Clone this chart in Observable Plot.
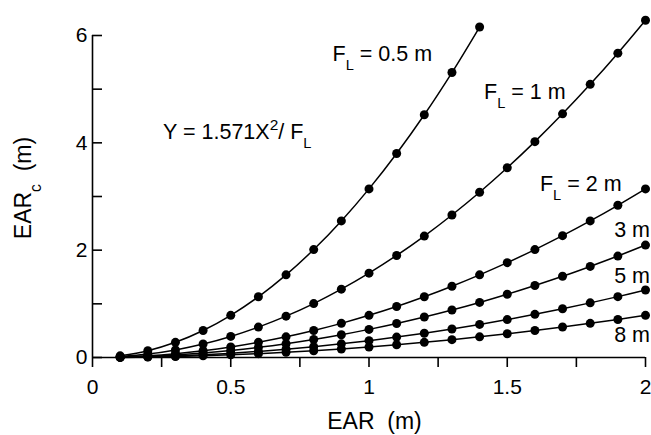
<!DOCTYPE html>
<html>
<head>
<meta charset="utf-8">
<script src="https://cdn.jsdelivr.net/npm/d3@7"></script>
<script src="https://cdn.jsdelivr.net/npm/@observablehq/plot@0.6"></script>
<style>
  html, body { margin: 0; padding: 0; background: #fff; }
  #chart svg { display: block; }
</style>
</head>
<body>
<div id="chart"></div>
<script>
// EAR values (m), x axis
const earX = [0.1, 0.2, 0.3, 0.4, 0.5, 0.6, 0.7, 0.8, 0.9, 1.0,
              1.1, 1.2, 1.3, 1.4, 1.5, 1.6, 1.7, 1.8, 1.9, 2.0];
// Focal lengths F_L (m)
const focalLengths = [0.5, 1, 2, 3, 5, 8];
// EAR_c values (m) for each focal length
const earcF05 = [0.031, 0.126, 0.283, 0.503, 0.786, 1.131, 1.540, 2.011, 2.545, 3.142,
                 3.802, 4.524, 5.310, 6.158];
const earcF1  = [0.016, 0.063, 0.141, 0.251, 0.393, 0.566, 0.770, 1.005, 1.273, 1.571,
                 1.901, 2.262, 2.655, 3.079, 3.535, 4.022, 4.540, 5.090, 5.671, 6.284];
const earcF2  = [0.008, 0.031, 0.071, 0.126, 0.196, 0.283, 0.385, 0.503, 0.636, 0.786,
                 0.950, 1.131, 1.328, 1.540, 1.767, 2.011, 2.270, 2.545, 2.836, 3.142];
const earcF3  = [0.005, 0.021, 0.047, 0.084, 0.131, 0.189, 0.257, 0.335, 0.424, 0.524,
                 0.634, 0.754, 0.885, 1.026, 1.178, 1.341, 1.513, 1.697, 1.890, 2.095];
const earcF5  = [0.003, 0.013, 0.028, 0.050, 0.079, 0.113, 0.154, 0.201, 0.254, 0.314,
                 0.380, 0.452, 0.531, 0.616, 0.707, 0.804, 0.908, 1.018, 1.134, 1.257];
const earcF8  = [0.002, 0.008, 0.018, 0.031, 0.049, 0.071, 0.096, 0.126, 0.159, 0.196,
                 0.238, 0.283, 0.332, 0.385, 0.442, 0.503, 0.568, 0.636, 0.709, 0.786];
const seriesValues = [earcF05, earcF1, earcF2, earcF3, earcF5, earcF8];

// Axis ticks
const xTicks = [0, 0.25, 0.5, 0.75, 1, 1.25, 1.5, 1.75, 2];
const xTickLabels = [0, 0.5, 1, 1.5, 2];
const yTicks = [0, 1, 2, 3, 4, 5, 6];
const yTickLabels = [0, 2, 4, 6];

// Texts
const xTitle = ["EAR\u00a0\u00a0(m)"];
const yTitle = ["EAR", "c", "\u00a0\u00a0(m)"];
const formulaText = ["Y = 1.571X", "2", "/ F", "L"];
// Series labels: text parts, anchored in data coordinates
const seriesLabels = [
  {parts: [["F", ""], ["L", "sub"], [" = 0.5 m", ""]], x: 0.87, y: 5.52, anchor: "start"},
  {parts: [["F", ""], ["L", "sub"], [" = 1 m", ""]],   x: 1.418, y: 4.81, anchor: "start"},
  {parts: [["F", ""], ["L", "sub"], [" = 2 m", ""]],   x: 1.62, y: 3.10, anchor: "start"},
  {parts: [["3 m", ""]], x: 2.0, y: 2.24, anchor: "end"},
  {parts: [["5 m", ""]], x: 2.0, y: 1.37, anchor: "end"},
  {parts: [["8 m", ""]], x: 2.0, y: 0.285, anchor: "end"}
];
const formulaPos = {x: 0.257, y: 4.06};

const data = seriesValues.flatMap((vals, i) =>
  vals.map((v, j) => ({F: focalLengths[i], ear: earX[j], earc: v}))
);

const FONT = "'Liberation Sans', Arial, Helvetica, sans-serif";
const W = 651, H = 435, ML = 92, MR = 6, MT = 35, MB = 78;
const TICK = 10;

const chart = Plot.plot({
  width: W,
  height: H,
  marginLeft: ML,
  marginRight: MR,
  marginTop: MT,
  marginBottom: MB,
  style: {fontFamily: FONT, fontSize: "21px", background: "#fff", color: "#000"},
  x: {domain: [0, 2]},
  y: {domain: [0, 6]},
  marks: [
    Plot.ruleY([0], {stroke: "#000", strokeWidth: 1.6}),
    Plot.ruleX([0], {stroke: "#000", strokeWidth: 1.6}),
    Plot.axisX(xTicks, {
      tickSize: TICK, tickPadding: 12, strokeWidth: 1.6, fontSize: 21, label: null,
      tickFormat: d => xTickLabels.includes(d) ? String(d) : ""
    }),
    Plot.axisY(yTickLabels, {tickSize: 0, tickPadding: 5, fontSize: 21, label: null, tickFormat: d => String(d)}),
    // inward-pointing y ticks
    Plot.tickY(yTicks, {y: d => d, insetRight: (W - ML - MR) - TICK, stroke: "#000", strokeWidth: 1.6}),
    Plot.line(data, {x: "ear", y: "earc", z: "F", curve: "catmull-rom", stroke: "#000", strokeWidth: 1.5}),
    Plot.dot(data, {x: "ear", y: "earc", r: 4.5, fill: "#000", stroke: "none"})
  ]
});

document.getElementById("chart").appendChild(chart);

const xs = chart.scale("x");
const ys = chart.scale("y");
const svg = d3.select(chart);
const g = svg.append("g").attr("font-family", FONT).attr("fill", "#000").attr("text-anchor", "start");

function rich(sel, parts, size) {
  let shift = 0;
  parts.forEach(([t, kind]) => {
    const ts = sel.append("tspan").text(t);
    let target = 0, fs = size;
    if (kind === "sub") { target = 0.42 * size; fs = 0.68 * size; }
    if (kind === "sup") { target = -0.42 * size; fs = 0.72 * size; }
    ts.attr("font-size", fs);
    const dy = target - shift;
    if (dy !== 0) ts.attr("dy", dy);
    shift = target;
  });
}

const ANN = 21.5;
seriesLabels.forEach(lab => {
  const t = g.append("text")
    .attr("x", xs.apply(lab.x) + (lab.anchor === "end" ? 5 : 0))
    .attr("y", ys.apply(lab.y))
    .attr("text-anchor", lab.anchor)
    .attr("font-size", ANN);
  rich(t, lab.parts, ANN);
});

{
  const t = g.append("text")
    .attr("x", xs.apply(formulaPos.x))
    .attr("y", ys.apply(formulaPos.y))
    .attr("text-anchor", "start")
    .attr("font-size", ANN);
  rich(t, [[formulaText[0], ""], [formulaText[1], "sup"], [formulaText[2], ""], [formulaText[3], "sub"]], ANN);
}

g.append("text")
  .attr("x", (xs.apply(0) + xs.apply(2)) / 2 + 6)
  .attr("y", 429)
  .attr("text-anchor", "middle")
  .attr("font-size", 23)
  .text(xTitle[0]);

{
  const t = g.append("text")
    .attr("transform", `translate(31,${(ys.apply(0) + ys.apply(6)) / 2 - 8}) rotate(-90)`)
    .attr("text-anchor", "middle")
    .attr("font-size", 23);
  rich(t, [[yTitle[0], ""], [yTitle[1], "sub"], [yTitle[2], ""]], 23);
}
</script>
</body>
</html>
